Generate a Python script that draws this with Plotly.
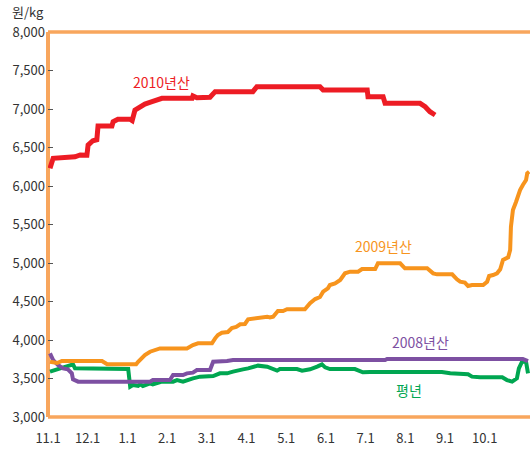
import plotly.graph_objects as go

# x positions are in months counted from 11.1 (0 = Nov 1, 1 = Dec 1, ...)
month_ticks = list(range(12))
month_labels = ["11.1", "12.1", "1.1", "2.1", "3.1", "4.1", "5.1", "6.1", "7.1", "8.1", "9.1", "10.1"]

y_ticks = [3000, 3500, 4000, 4500, 5000, 5500, 6000, 6500, 7000, 7500, 8000]

# 2010년산
x_2010 = [0.05, 0.13, 0.68, 0.81, 0.98, 1.01, 1.13, 1.23, 1.26, 1.61, 1.64, 1.76, 2.07, 2.12, 2.19,
          2.32, 2.44, 2.62, 2.75, 2.87, 3.63, 3.65, 3.75, 4.08, 4.21, 5.16, 5.26, 6.85, 6.93, 8.04,
          8.06, 8.44, 8.49, 9.37, 9.50, 9.62, 9.75]
y_2010 = [6230, 6360, 6380, 6403, 6400, 6532, 6588, 6600, 6779, 6779, 6835, 6866, 6866, 6850, 6987,
          7022, 7065, 7095, 7117, 7139, 7139, 7169, 7145, 7152, 7225, 7225, 7290, 7290, 7247, 7247,
          7160, 7160, 7074, 7074, 7030, 6965, 6922]

# 2009년산
x_2009 = [0.05, 0.23, 0.35, 1.36, 1.49, 2.22, 2.27, 2.37, 2.44, 2.57, 2.70, 2.82, 3.50, 3.58, 3.65,
          3.78, 4.13, 4.21, 4.28, 4.38, 4.53, 4.63, 4.74, 4.84, 4.96, 5.04, 5.16, 5.34, 5.52, 5.59,
          5.67, 5.79, 5.92, 6.02, 6.47, 6.60, 6.73, 6.85, 6.93, 7.05, 7.10, 7.23, 7.36, 7.48, 7.61,
          7.81, 7.91, 8.24, 8.31, 8.87, 8.99, 9.55, 9.70, 9.80, 10.18, 10.30, 10.38, 10.50, 10.58,
          10.68, 10.96, 11.06, 11.11, 11.21, 11.31, 11.39, 11.46, 11.59, 11.64, 11.66, 11.71, 11.79,
          11.84, 11.89, 11.96, 12.04, 12.07, 12.12]
y_2009 = [3718, 3701, 3727, 3727, 3685, 3685, 3718, 3766, 3805, 3848, 3870, 3890, 3890, 3913, 3935,
          3957, 3957, 4022, 4065, 4095, 4104, 4156, 4169, 4204, 4208, 4269, 4277, 4290, 4303, 4292,
          4303, 4377, 4377, 4399, 4399, 4477, 4532, 4558, 4627, 4671, 4714, 4736, 4779, 4866, 4887,
          4887, 4922, 4922, 4996, 4996, 4931, 4931, 4866, 4853, 4853, 4788, 4757, 4745, 4701,
          4714, 4714, 4757, 4831, 4844, 4866, 4918, 5039, 5074, 5169, 5471, 5688, 5796,
          5883, 5948, 6013, 6078, 6165, 6186]

# 2008년산
x_2008 = [0.05, 0.13, 0.25, 0.38, 0.50, 0.60, 0.63, 0.76, 2.57, 2.64, 3.07, 3.15, 3.40, 3.50, 3.65,
          3.75, 4.08, 4.16, 4.51, 4.66, 8.49, 8.54, 11.96, 12.09]
y_2008 = [3827, 3740, 3675, 3632, 3619, 3567, 3490, 3459, 3459, 3480, 3480, 3545, 3545, 3567, 3576,
          3610, 3610, 3718, 3727, 3740, 3740, 3753, 3753, 3727]

# 평년
x_avg = [0.05, 0.18, 0.30, 0.43, 0.55, 0.63, 0.68, 2.02, 2.07, 2.14, 2.27, 2.32, 2.39, 2.49, 2.57,
         2.64, 2.75, 2.87, 3.15, 3.25, 3.40, 3.50, 3.65, 3.83, 4.16, 4.33, 4.51, 4.66, 4.84, 4.91,
         5.04, 5.16, 5.29, 5.52, 5.64, 5.77, 5.84, 6.27, 6.40, 6.60, 6.78, 6.90, 6.98, 7.10, 7.73,
         7.81, 7.93, 8.11, 9.92, 10.13, 10.58, 10.68, 10.88, 11.44, 11.56, 11.69, 11.81, 11.86,
         11.94, 12.04, 12.09]
y_avg = [3589, 3610, 3640, 3662, 3675, 3684, 3632, 3623, 3394, 3416, 3403, 3425, 3403, 3416, 3438,
         3425, 3446, 3459, 3459, 3480, 3459, 3480, 3502, 3524, 3532, 3567, 3567, 3589, 3602, 3619,
         3632, 3654, 3667, 3654, 3623, 3602, 3623, 3623, 3602, 3619, 3654, 3684, 3645, 3623, 3623,
         3602, 3580, 3585, 3585, 3567, 3554, 3524, 3515, 3515, 3480, 3459, 3502, 3632,
         3718, 3718, 3567]

FONT = "Noto Sans CJK KR"
RED = "#ED1C24"
ORANGE = "#F7941D"
PURPLE = "#7D50A2"
GREEN = "#00A651"
BORDER = "#F8A65D"

fig = go.Figure()
series = [
    (x_avg, y_avg, GREEN, 4),
    (x_2008, y_2008, PURPLE, 4),
    (x_2009, y_2009, ORANGE, 4),
    (x_2010, y_2010, RED, 5),
]
for xs, ys, col, w in series:
    fig.add_trace(go.Scatter(x=xs, y=ys, mode="lines",
                             line=dict(color=col, width=w, shape="linear"),
                             hoverinfo="skip", showlegend=False))

labels = [
    ("2010년산", 2.85, 7351, RED),
    ("2009년산", 8.46, 5221, ORANGE),
    ("2008년산", 9.37, 3974, PURPLE),
    ("평년", 9.09, 3351, GREEN),
]
for txt, lx, ly, col in labels:
    fig.add_annotation(x=lx, y=ly, text=txt, showarrow=False,
                       font=dict(family=FONT, size=14, color=col),
                       xanchor="center", yanchor="middle")

fig.add_annotation(xref="paper", yref="paper", x=-0.041, y=1.052, text="원/kg",
                   showarrow=False, font=dict(family=FONT, size=13, color="#333333"),
                   xanchor="center", yanchor="middle")

# frame: left, top, bottom
for x0, y0, x1, y1, w in [(0, 0, 0, 1, 4), (0, 1, 1, 1, 3.5), (0, 0, 1, 0, 3.5)]:
    fig.add_shape(type="line", xref="paper", yref="paper", x0=x0, y0=y0, x1=x1, y1=y1,
                  line=dict(color=BORDER, width=w), layer="below")

fig.update_layout(
    width=530, height=450,
    margin=dict(l=48, r=0, t=32, b=33, autoexpand=False),
    paper_bgcolor="white", plot_bgcolor="white",
    font=dict(family=FONT, size=13, color="#333333"),
    hovermode=False,
    xaxis=dict(range=[0, 12.14], tickvals=month_ticks, ticktext=month_labels,
               showgrid=False, zeroline=False, showline=False, ticks="",
               ticklabelstandoff=12, tickfont=dict(size=13, color="#333333")),
    yaxis=dict(range=[3000, 8000], tickvals=y_ticks, tickformat=",",
               showgrid=False, zeroline=False, showline=False,
               ticks="inside", ticklen=5, tickcolor="#555555", tickwidth=1,
               ticklabelstandoff=2,
               tickfont=dict(size=13, color="#333333")),
)

fig.write_html("out.html", config={"displayModeBar": False},
               post_script="document.body.style.margin='0';document.body.style.padding='0';")
